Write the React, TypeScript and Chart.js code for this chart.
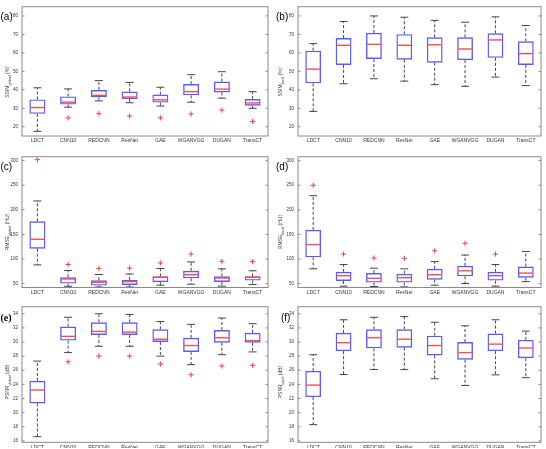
import React, { useEffect, useRef } from "react";
import { Chart, registerables } from "chart.js";

Chart.register(...registerables);

// Methods compared on the x axis of every panel
const methods = ["LDCT", "CNN10", "REDCNN", "ResNet", "GAE", "WGANVGG", "DUGAN", "TransCT"];

// (a) SSIM global (%)
const ssimGlobalLow = [17.5, 30.6, 34, 33, 31.2, 33.3, 35.5, 30];
const ssimGlobalQ1 = [27, 32, 36, 35, 33.1, 37, 38.6, 31.4];
const ssimGlobalMed = [30.4, 33.3, 37, 36.1, 34.6, 39, 40.4, 32.9];
const ssimGlobalQ3 = [34.8, 36.4, 39.9, 39.1, 37.4, 43.1, 44.5, 35];
const ssimGlobalHigh = [41.1, 40.5, 45, 44, 41.4, 48.2, 49.8, 39];
const ssimGlobalOut = [null, 24.8, 27.1, 25.8, 24.8, 26.9, 29, 22.9];

// (b) SSIM local (%)
const ssimLocalLow = [28.3, 43.3, 46, 44.7, 42.8, 41.9, 46.9, 42.3];
const ssimLocalQ1 = [43.5, 53.5, 56.7, 56.3, 54.7, 56.1, 57.3, 53.5];
const ssimLocalMed = [51.2, 64.1, 64.6, 64.1, 64.4, 62.1, 67, 59.6];
const ssimLocalQ3 = [61.2, 68, 70.8, 70.1, 68.4, 68.4, 70.6, 66.3];
const ssimLocalHigh = [65, 77, 80, 79.3, 77.6, 76.6, 79.5, 74.8];
const ssimLocalOut = [null, null, null, null, null, null, null, null];

// (c) RMSE global (HU)
const rmseGlobalLow = [88, 44.5, 43, 43, 46.7, 48.7, 44.7, 48];
const rmseGlobalQ1 = [121, 50, 46, 47.3, 52.7, 60.7, 53.3, 56];
const rmseGlobalMed = [140, 59.3, 52.7, 54, 62.7, 68, 61.3, 62.7];
const rmseGlobalQ3 = [176.5, 62.7, 56.7, 57.3, 64.7, 76, 64.7, 64.7];
const rmseGlobalHigh = [218, 76.7, 68.5, 69.5, 80.7, 94, 80, 76];
const rmseGlobalOut = [302, 88.7, 80.7, 81.3, 92, 110, 95.3, 94.7];

// (d) RMSE local (HU)
const rmseLocalLow = [80, 44.7, 44, 43.3, 46.7, 50, 44.7, 54];
const rmseLocalQ1 = [103.3, 55.3, 52, 52, 58, 64.7, 56, 62];
const rmseLocalMed = [129.3, 66, 60.7, 62, 68, 76, 66, 71.3];
const rmseLocalQ3 = [159.3, 74, 71.3, 70, 80, 86, 74, 84.7];
const rmseLocalHigh = [228.7, 88.7, 81.3, 80, 94.7, 108, 88.7, 115.3];
const rmseLocalOut = [250, 110, 102, 101.3, 116.7, 132, 110, null];

// (e) PSNR global (dB)
const psnrGlobalLow = [16.6, 28.5, 29.4, 29.4, 28, 26.8, 28.2, 28.6];
const psnrGlobalQ1 = [21.3, 30.2, 31, 31, 30, 28.6, 29.9, 29.9];
const psnrGlobalMed = [23.2, 30.8, 31.5, 31.4, 30.4, 29.5, 30.6, 30.2];
const psnrGlobalQ3 = [24.5, 32.2, 32.8, 32.8, 31.8, 30.6, 31.7, 31.3];
const psnrGlobalHigh = [27.3, 33.5, 34, 33.9, 32.9, 32.5, 33.4, 32.6];
const psnrGlobalOut = [null, 27.2, 28, 28, 26.9, 25.35, 26.6, 26.7];

// (f) PSNR local (dB)
const psnrLocalLow = [18.3, 25.4, 26.1, 26.1, 24.8, 23.85, 25.35, 24.95];
const psnrLocalQ1 = [22.2, 28.7, 29.1, 29.2, 28.1, 27.5, 28.7, 27.7];
const psnrLocalMed = [23.9, 29.9, 30.6, 30.4, 29.5, 28.5, 29.7, 29.15];
const psnrLocalQ3 = [25.9, 31.3, 31.8, 31.8, 30.9, 30, 31.2, 30.3];
const psnrLocalHigh = [28.2, 33.15, 33.5, 33.6, 32.8, 32.3, 33.15, 31.55];
const psnrLocalOut = [null, null, null, null, null, null, null, null];

// Y tick values
const ssimTicks = [20, 30, 40, 50, 60, 70, 80];
const rmseTicks = [50, 100, 150, 200, 250, 300];
const psnrTicks = [16, 18, 20, 22, 24, 26, 28, 30, 32, 34];

const FONT = '"Liberation Sans", Arial, sans-serif';
const FRAME = "#8a8a8a";
const BOX = "#5a5aff";
const MEDIAN = "#ff4d4d";
const WHISKER = "#444444";
const TEXT = "#333333";

type Geo = { x: number; y: number; w: number; h: number; left: number; top: number; right: number; bottom: number };

type Panel = {
  tag: string;
  tagFont: string;
  tagX: number;
  tagY: number;
  titleMain: string;
  titleSub: string;
  titleUnit: string;
  low: number[];
  q1: number[];
  med: number[];
  q3: number[];
  high: number[];
  out: (number | null)[];
  yMin: number;
  yMax: number;
  yTicks: number[];
  geo: Geo;
};

const panels: Panel[] = [
  {
    tag: "(a)", tagFont: `10px ${FONT}`, tagX: 0.5, tagY: 17,
    titleMain: "SSIM", titleSub: "global", titleUnit: " (%)",
    low: ssimGlobalLow, q1: ssimGlobalQ1, med: ssimGlobalMed, q3: ssimGlobalQ3, high: ssimGlobalHigh, out: ssimGlobalOut,
    yMin: 15, yMax: 85, yTicks: ssimTicks,
    geo: { x: 0, y: 0, w: 273, h: 150, left: 22, top: 1, right: 269, bottom: 136 },
  },
  {
    tag: "(b)", tagFont: `10px ${FONT}`, tagX: 3, tagY: 17,
    titleMain: "SSIM", titleSub: "local", titleUnit: " (%)",
    low: ssimLocalLow, q1: ssimLocalQ1, med: ssimLocalMed, q3: ssimLocalQ3, high: ssimLocalHigh, out: ssimLocalOut,
    yMin: 15, yMax: 85, yTicks: ssimTicks,
    geo: { x: 273, y: 0, w: 273, h: 150, left: 25, top: 1, right: 269, bottom: 136 },
  },
  {
    tag: "(c)", tagFont: `10px ${FONT}`, tagX: 0.5, tagY: 17.5,
    titleMain: "RMSE", titleSub: "global", titleUnit: " (HU)",
    low: rmseGlobalLow, q1: rmseGlobalQ1, med: rmseGlobalMed, q3: rmseGlobalQ3, high: rmseGlobalHigh, out: rmseGlobalOut,
    yMin: 42, yMax: 308, yTicks: rmseTicks,
    geo: { x: 0, y: 150, w: 273, h: 150, left: 22, top: 4, right: 269, bottom: 137.5 },
  },
  {
    tag: "(d)", tagFont: `10px ${FONT}`, tagX: 3, tagY: 17.5,
    titleMain: "RMSE", titleSub: "local", titleUnit: " (HU)",
    low: rmseLocalLow, q1: rmseLocalQ1, med: rmseLocalMed, q3: rmseLocalQ3, high: rmseLocalHigh, out: rmseLocalOut,
    yMin: 42, yMax: 308, yTicks: rmseTicks,
    geo: { x: 273, y: 150, w: 273, h: 150, left: 25, top: 4, right: 269, bottom: 137.5 },
  },
  {
    tag: "(e)", tagFont: `bold 10px "Liberation Serif", "Times New Roman", serif`, tagX: 0.5, tagY: 18,
    titleMain: "PSNR", titleSub: "global", titleUnit: " (dB)",
    low: psnrGlobalLow, q1: psnrGlobalQ1, med: psnrGlobalMed, q3: psnrGlobalQ3, high: psnrGlobalHigh, out: psnrGlobalOut,
    yMin: 15.8, yMax: 35, yTicks: psnrTicks,
    geo: { x: 0, y: 300, w: 273, h: 149, left: 22, top: 6.7, right: 269, bottom: 143.3 },
  },
  {
    tag: "(f)", tagFont: `10px ${FONT}`, tagX: 8, tagY: 18,
    titleMain: "PSNR", titleSub: "local", titleUnit: " (dB)",
    low: psnrLocalLow, q1: psnrLocalQ1, med: psnrLocalMed, q3: psnrLocalQ3, high: psnrLocalHigh, out: psnrLocalOut,
    yMin: 15.8, yMax: 35, yTicks: psnrTicks,
    geo: { x: 273, y: 300, w: 273, h: 149, left: 25, top: 6.7, right: 269, bottom: 143.3 },
  },
];

function makeDecor(p: Panel) {
  return {
    id: "boxDecor",
    afterDatasetsDraw(chart: any) {
      const ctx: CanvasRenderingContext2D = chart.ctx;
      const xs = chart.scales.x;
      const ys = chart.scales.y;
      const meta = chart.getDatasetMeta(0);
      ctx.save();
      p.med.forEach((m, i) => {
        const cx = xs.getPixelForValue(i);
        const bar = meta.data[i];
        const half = bar ? bar.width / 2 : 8;
        const capHalf = half / 2;
        const yLow = ys.getPixelForValue(p.low[i]);
        const yQ1 = ys.getPixelForValue(p.q1[i]);
        const yQ3 = ys.getPixelForValue(p.q3[i]);
        const yHigh = ys.getPixelForValue(p.high[i]);
        const yMed = ys.getPixelForValue(m);

        // dashed whiskers
        ctx.strokeStyle = WHISKER;
        ctx.lineWidth = 1;
        ctx.setLineDash([3, 2]);
        ctx.beginPath();
        ctx.moveTo(cx, yQ3);
        ctx.lineTo(cx, yHigh);
        ctx.moveTo(cx, yQ1);
        ctx.lineTo(cx, yLow);
        ctx.stroke();

        // whisker caps
        ctx.setLineDash([]);
        ctx.beginPath();
        ctx.moveTo(cx - capHalf, yHigh);
        ctx.lineTo(cx + capHalf, yHigh);
        ctx.moveTo(cx - capHalf, yLow);
        ctx.lineTo(cx + capHalf, yLow);
        ctx.stroke();

        // median
        ctx.strokeStyle = MEDIAN;
        ctx.lineWidth = 1.4;
        ctx.beginPath();
        ctx.moveTo(cx - half + 1, yMed);
        ctx.lineTo(cx + half - 1, yMed);
        ctx.stroke();
      });

      // axes frame with inward ticks
      const a = chart.chartArea;
      ctx.strokeStyle = FRAME;
      ctx.lineWidth = 1;
      ctx.strokeRect(a.left, a.top, a.right - a.left, a.bottom - a.top);
      ctx.beginPath();
      p.yTicks.forEach((t) => {
        const y = ys.getPixelForValue(t);
        ctx.moveTo(a.left, y);
        ctx.lineTo(a.left + 2.5, y);
        ctx.moveTo(a.right, y);
        ctx.lineTo(a.right - 2.5, y);
      });
      ctx.stroke();
      ctx.restore();
    },
    afterDraw(chart: any) {
      const ctx: CanvasRenderingContext2D = chart.ctx;
      ctx.save();
      // panel tag
      ctx.fillStyle = "#000";
      ctx.font = p.tagFont;
      ctx.textAlign = "left";
      ctx.textBaseline = "middle";
      ctx.fillText(p.tag, p.tagX, p.tagY);

      // rotated y title with subscript
      const mainFont = `5px ${FONT}`;
      const subFont = `3.8px ${FONT}`;
      ctx.font = mainFont;
      const w1 = ctx.measureText(p.titleMain).width;
      const w3 = ctx.measureText(p.titleUnit).width;
      ctx.font = subFont;
      const w2 = ctx.measureText(p.titleSub).width;
      const total = w1 + w2 + w3;
      ctx.translate(8, 82);
      ctx.rotate(-Math.PI / 2);
      ctx.fillStyle = TEXT;
      ctx.textBaseline = "middle";
      let x = -total / 2;
      ctx.font = mainFont;
      ctx.fillText(p.titleMain, x, 0);
      x += w1;
      ctx.font = subFont;
      ctx.fillText(p.titleSub, x, 1.8);
      x += w2;
      ctx.font = mainFont;
      ctx.fillText(p.titleUnit, x, 0);
      ctx.restore();
    },
  };
}

function BoxPanel({ p }: { p: Panel }) {
  const ref = useRef<HTMLCanvasElement | null>(null);

  useEffect(() => {
    const canvas = ref.current;
    if (!canvas) return;
    const g = p.geo;
    const chart = new Chart(canvas, {
      type: "bar",
      data: {
        labels: methods,
        datasets: [
          {
            type: "bar",
            data: p.q1.map((v, i) => [v, p.q3[i]]),
            backgroundColor: "rgba(255,255,255,0)",
            borderColor: BOX,
            borderWidth: 1.4,
            borderSkipped: false,
            barPercentage: 0.52,
            categoryPercentage: 1,
          } as any,
          {
            type: "line",
            data: p.out,
            showLine: false,
            pointStyle: "cross",
            pointRadius: 2.6,
            pointBorderWidth: 1,
            pointBorderColor: "#ff3b3b",
            pointBackgroundColor: "#ff3b3b",
            borderColor: "#ff3b3b",
          } as any,
        ],
      },
      options: {
        responsive: false,
        animation: false,
        devicePixelRatio: 1,
        layout: { padding: { top: g.top, right: g.w - g.right, left: 0, bottom: 0 } },
        plugins: { legend: { display: false }, tooltip: { enabled: false } },
        scales: {
          x: {
            type: "category",
            offset: true,
            grid: { display: false, drawTicks: false },
            border: { display: false },
            ticks: {
              font: { size: 5, family: FONT },
              color: TEXT,
              padding: 2,
              maxRotation: 0,
              autoSkip: false,
            },
            afterFit: (s: any) => {
              s.height = g.h - g.bottom;
            },
          },
          y: {
            type: "linear",
            min: p.yMin,
            max: p.yMax,
            grid: { display: false, drawTicks: false },
            border: { display: false },
            ticks: {
              font: { size: 4.5, family: FONT },
              color: TEXT,
              padding: 4,
            },
            afterBuildTicks: (s: any) => {
              s.ticks = p.yTicks.map((v) => ({ value: v }));
            },
            afterFit: (s: any) => {
              s.width = g.left;
            },
          },
        },
      } as any,
      plugins: [makeDecor(p)],
    });
    return () => chart.destroy();
  }, [p]);

  const g = p.geo;
  return (
    <div style={{ position: "absolute", left: g.x, top: g.y, width: g.w, height: g.h }}>
      <canvas ref={ref} width={g.w} height={g.h} style={{ display: "block" }} />
    </div>
  );
}

export default function App() {
  return (
    <div
      style={{
        position: "fixed",
        left: 0,
        top: 0,
        width: 546,
        height: 449,
        background: "#ffffff",
        overflow: "hidden",
      }}
    >
      {panels.map((p) => (
        <BoxPanel key={p.tag} p={p} />
      ))}
    </div>
  );
}
